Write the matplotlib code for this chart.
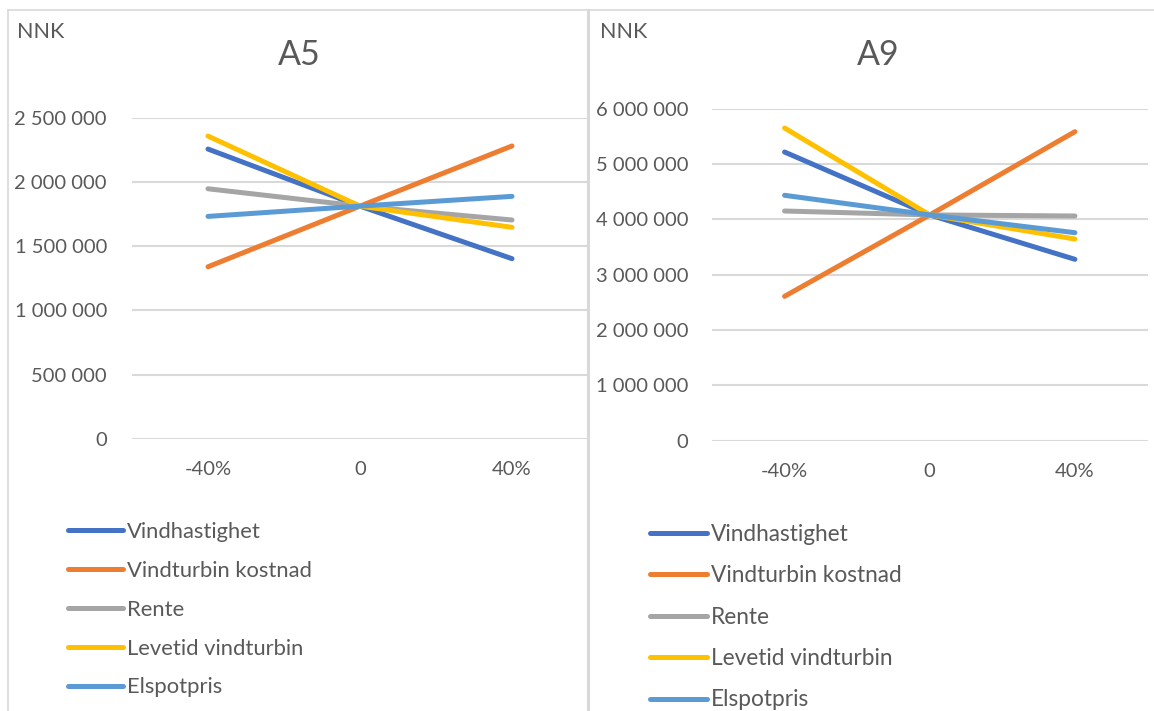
import matplotlib
matplotlib.use("Agg")
import matplotlib.pyplot as plt
from matplotlib.ticker import FuncFormatter, MultipleLocator
from matplotlib.lines import Line2D

plt.rcParams['font.family'] = ['Lato', 'DejaVu Sans']

# sensitivity steps
steps = ['-40%', '0', '40%']
series = ['Vindhastighet', 'Vindturbin kostnad', 'Rente', 'Levetid vindturbin', 'Elspotpris']
colors = ['#4472C4', '#ED7D31', '#A5A5A5', '#FFC000', '#5B9BD5']

# NNK values per series, A5
a5_vind = [2256000, 1812000, 1403000]
a5_kost = [1340000, 1812000, 2280000]
a5_rente = [1947000, 1812000, 1704000]
a5_levetid = [2357000, 1812000, 1647000]
a5_spot = [1732000, 1812000, 1888000]

# NNK values per series, A9
a9_vind = [5217000, 4080000, 3278000]
a9_kost = [2609000, 4080000, 5585000]
a9_rente = [4151000, 4080000, 4061000]
a9_levetid = [5651000, 4080000, 3645000]
a9_spot = [4435000, 4080000, 3759000]

W, H = 1154, 711
fig = plt.figure(figsize=(W / 100, H / 100), dpi=100)
txt = '#595959'
grid = '#D9D9D9'


def fx(px):
    return px / W


def fy(py):
    return 1 - py / H


def space_fmt(v, pos):
    return f"{int(round(v)):,}".replace(",", " ")


def panel(rect, data, ymax, step, title, title_x, nnk_x, leg_x, leg_y, leg_size, leg_gap, ypad):
    ax = fig.add_axes(rect)
    x = range(len(steps))
    for vals, c, name in zip(data, colors, series):
        ax.plot(x, vals, color=c, lw=3.6, solid_capstyle='round', label=name)
    ax.set_xlim(-0.5, 2.5)
    ax.set_ylim(0, ymax)
    ax.yaxis.set_major_locator(MultipleLocator(step))
    ax.yaxis.set_major_formatter(FuncFormatter(space_fmt))
    ax.set_xticks(list(x))
    ax.set_xticklabels(steps)
    ax.yaxis.grid(True, color=grid, lw=1.5)
    ax.set_axisbelow(True)
    for s in ax.spines.values():
        s.set_visible(False)
    ax.tick_params(axis='y', length=0, pad=ypad, labelsize=14.5, labelcolor=txt)
    ax.tick_params(axis='x', length=0, pad=16, labelsize=14.5, labelcolor=txt)
    fig.text(fx(title_x), fy(55), title, ha='center', va='center', fontsize=24.5, color=txt)
    fig.text(fx(nnk_x), fy(32), 'NNK', ha='left', va='center', fontsize=15.5, color=txt)
    handles = [Line2D([], [], color=c, lw=3.6, solid_capstyle='round') for c in colors]
    ax.legend(handles, series, loc='upper left', bbox_to_anchor=(fx(leg_x), fy(leg_y)),
              bbox_transform=fig.transFigure, frameon=False, borderpad=0, borderaxespad=0,
              handlelength=2.5, handletextpad=0.2, labelspacing=leg_gap,
              prop={'size': leg_size}, labelcolor=txt)
    return ax


panel([fx(132), fy(439), fx(588 - 132), fy(117.7) - fy(439)],
      [a5_vind, a5_kost, a5_rente, a5_levetid, a5_spot],
      2500000, 500000, 'A5', 299, 17, 68, 522, 15.8, 0.86, 18)
panel([fx(712), fy(440.7), fx(1147.5 - 712), fy(108.7) - fy(440.7)],
      [a9_vind, a9_kost, a9_rente, a9_levetid, a9_spot],
      6000000, 1000000, 'A9', 878, 600, 650, 524, 16.3, 0.9, 17)

# chart frames
border = '#D9D9D9'
fig.add_artist(Line2D([fx(8), 1], [fy(10), fy(10)], color=border, lw=1.2))
fig.add_artist(Line2D([fx(8), fx(8)], [fy(10), 0], color=border, lw=1.2))
fig.add_artist(Line2D([fx(588.3), fx(588.3)], [fy(10), 0], color=border, lw=2.2))

fig.savefig('out.png', dpi=100)
